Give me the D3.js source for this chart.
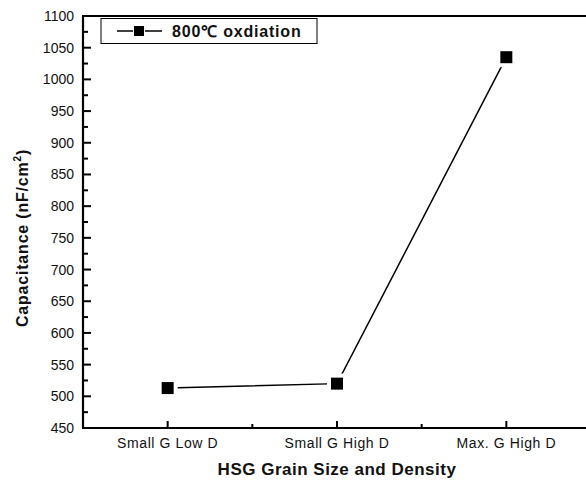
<html>
<head>
    <script src="https://d3js.org/d3.v7.min.js"></script>
    <style>
        body { margin: 0; background: white; }
        text { font-family: "Liberation Sans", Arial, sans-serif; fill: #111; }
    </style>
</head>
<body>
    <svg id="chart" width="586" height="480"></svg>

    <script>
    // data
    const categories = ["Small G Low D", "Small G High D", "Max. G High D"];
    const capacitance = [513, 520, 1035];
    const yTicks = [450, 500, 550, 600, 650, 700, 750, 800, 850, 900, 950, 1000, 1050, 1100];
    const seriesName = "800\u2103 oxdiation";

    const svg = d3.select("#chart");
    const plotLeft = 83, plotTop = 16, plotBottom = 428, plotRight = 591;

    // x runs over category slots, y is linear
    const x = d3.scaleLinear().domain([0, 3]).range([plotLeft, plotRight]);
    const y = d3.scaleLinear().domain([450, 1100]).range([plotBottom, plotTop]);

    // frame: left, top, bottom (right side cut off)
    svg.append("line").attr("x1", plotLeft).attr("x2", plotLeft).attr("y1", plotTop).attr("y2", plotBottom)
        .attr("stroke", "#000").attr("stroke-width", 2.2);
    svg.append("line").attr("x1", plotLeft - 1).attr("x2", 586).attr("y1", plotTop).attr("y2", plotTop)
        .attr("stroke", "#000").attr("stroke-width", 2.2);
    svg.append("line").attr("x1", plotLeft - 1).attr("x2", 586).attr("y1", plotBottom).attr("y2", plotBottom)
        .attr("stroke", "#000").attr("stroke-width", 2.2);

    // y ticks, inside
    const yAxis = svg.append("g");
    yTicks.forEach(function(t) {
        yAxis.append("line").attr("x1", plotLeft).attr("x2", plotLeft + 8)
            .attr("y1", y(t)).attr("y2", y(t)).attr("stroke", "#000").attr("stroke-width", 2);
        yAxis.append("text").attr("x", 74).attr("y", y(t) + 5)
            .attr("text-anchor", "end").style("font-size", "14px").text(t);
    });
    d3.range(475, 1100, 50).forEach(function(t) {
        yAxis.append("line").attr("x1", plotLeft).attr("x2", plotLeft + 5)
            .attr("y1", y(t)).attr("y2", y(t)).attr("stroke", "#000").attr("stroke-width", 2);
    });

    // x ticks, inside
    const xAxis = svg.append("g");
    categories.forEach(function(c, i) {
        xAxis.append("line").attr("x1", x(i + 0.5)).attr("x2", x(i + 0.5))
            .attr("y1", plotBottom).attr("y2", plotBottom - 7).attr("stroke", "#000").attr("stroke-width", 2);
        xAxis.append("text").attr("x", x(i + 0.5)).attr("y", 448)
            .attr("text-anchor", "middle").style("font-size", "14px")
            .style("letter-spacing", "0.6px").text(c);
    });
    [1, 2].forEach(function(t) {
        xAxis.append("line").attr("x1", x(t)).attr("x2", x(t))
            .attr("y1", plotBottom).attr("y2", plotBottom - 4).attr("stroke", "#000").attr("stroke-width", 2);
    });

    // axis titles
    svg.append("text").attr("x", 337).attr("y", 475).attr("text-anchor", "middle")
        .style("font-size", "17px").style("font-weight", "bold").style("letter-spacing", "0.5px")
        .text("HSG Grain Size and Density");
    const yTitle = svg.append("text").attr("transform", "translate(28,238) rotate(-90)")
        .attr("text-anchor", "middle").style("font-size", "16px").style("font-weight", "bold")
        .style("letter-spacing", "0.8px");
    yTitle.append("tspan").text("Capacitance (nF/cm");
    yTitle.append("tspan").attr("dy", -7).style("font-size", "10px").text("2");
    yTitle.append("tspan").attr("dy", 7).text(")");

    // series line, markers with a white gap around them
    const pts = capacitance.map((v, i) => [x(i + 0.5), y(v)]);
    svg.append("path").datum(pts)
        .attr("d", d3.line())
        .attr("fill", "none").attr("stroke", "#000").attr("stroke-width", 1.5);
    svg.selectAll(".gap").data(pts).join("rect")
        .attr("x", d => d[0] - 10).attr("y", d => d[1] - 10)
        .attr("width", 20).attr("height", 20).attr("fill", "white");
    svg.selectAll(".mark").data(pts).join("rect")
        .attr("x", d => d[0] - 6).attr("y", d => d[1] - 6)
        .attr("width", 12).attr("height", 12).attr("fill", "#000");

    // legend
    const lg = svg.append("g");
    lg.append("rect").attr("x", 101).attr("y", 18.5).attr("width", 216).attr("height", 25)
        .attr("fill", "white").attr("stroke", "#000").attr("stroke-width", 1);
    lg.append("line").attr("x1", 117).attr("x2", 133).attr("y1", 31).attr("y2", 31)
        .attr("stroke", "#000").attr("stroke-width", 1.5);
    lg.append("line").attr("x1", 145).attr("x2", 162).attr("y1", 31).attr("y2", 31)
        .attr("stroke", "#000").attr("stroke-width", 1.5);
    lg.append("rect").attr("x", 134).attr("y", 26).attr("width", 10).attr("height", 10).attr("fill", "#000");
    lg.append("text").attr("x", 172).attr("y", 37).style("font-size", "16px")
        .style("font-weight", "bold").style("letter-spacing", "0.8px").text(seriesName);
    </script>
</body>
</html>
